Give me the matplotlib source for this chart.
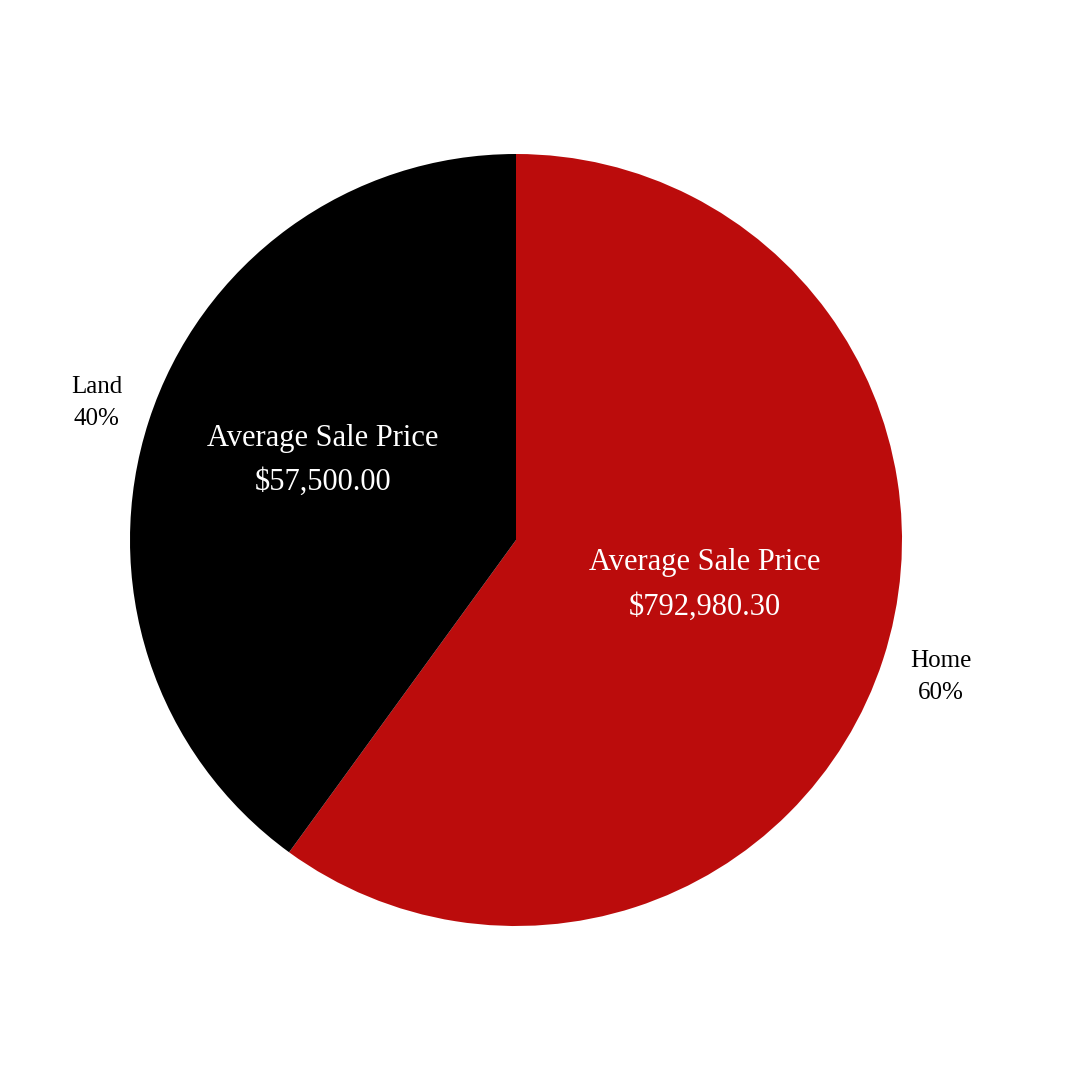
import matplotlib.pyplot as plt

categories = ["Home", "Land"]
shares = [60, 40]
avg_prices = [792980.30, 57500.00]
colors = ["#BB0C0C", "#000000"]

plt.rcParams['font.family'] = ['Liberation Serif', 'DejaVu Serif']

fig = plt.figure(figsize=(10.8, 10.8), dpi=100)
ax = fig.add_axes([0, 0, 1, 1])

prices = iter(avg_prices)
def inner_label(pct):
    return "Average Sale Price\n${:,.2f}".format(next(prices))

wedges, texts, autotexts = ax.pie(
    shares, labels=[f"{c}\n{s}%" for c, s in zip(categories, shares)],
    colors=colors, startangle=90, counterclock=False,
    autopct=inner_label, pctdistance=0.52, labeldistance=1.15,
    textprops={'fontsize': 18, 'linespacing': 1.6},
)
for t in autotexts:
    t.set_color("white")
    t.set_fontsize(22)
    t.set_linespacing(1.7)
    x, y = t.get_position()
    t.set_position((x - 0.005, y + 0.045))
for t in texts:
    t.set_horizontalalignment("center")
    x, y = t.get_position()
    t.set_position((x + 0.008, y))

# pie radius 1 -> 386 px, centre at (516, 540)
ax.set_xlim(-516 / 386, (1080 - 516) / 386)
ax.set_ylim(-540 / 386, 540 / 386)
ax.set_aspect("equal")
ax.axis("off")

plt.savefig("out.png", dpi=100)
